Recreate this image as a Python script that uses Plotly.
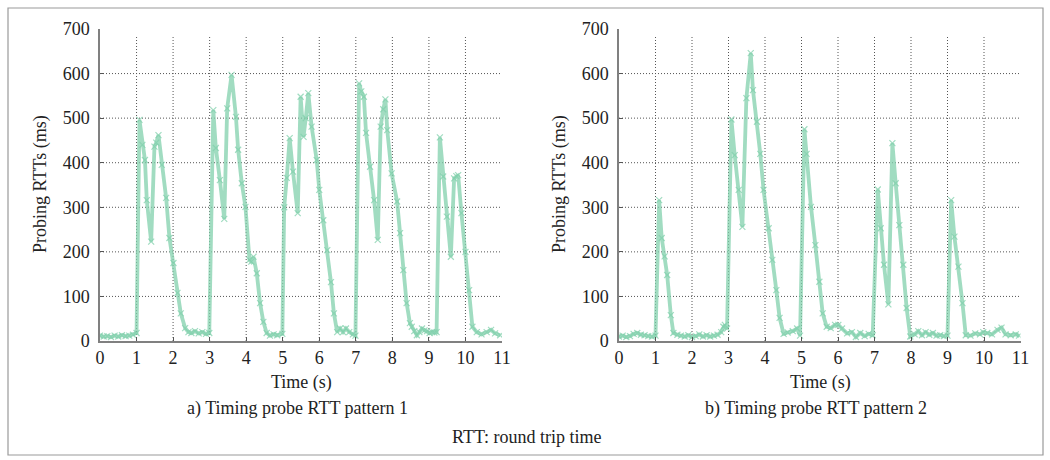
import plotly.graph_objects as go

# ---------------- data ----------------
x_ticks = list(range(0, 12))
y_ticks = [0, 100, 200, 300, 400, 500, 600, 700]
grid_x = list(range(1, 11))
grid_y = [100, 200, 300, 400, 500, 600]

t1 = [0.0, 0.1, 0.2, 0.3, 0.4, 0.5, 0.6, 0.7, 0.8, 0.9, 1.0,
      1.08, 1.16, 1.23, 1.28, 1.40, 1.49, 1.54, 1.60, 1.69, 1.81, 1.90, 2.01, 2.12, 2.21, 2.33,
      2.42, 2.5, 2.6, 2.7, 2.8, 2.9, 2.99,
      3.10, 3.17, 3.28, 3.40, 3.48, 3.60, 3.72, 3.78, 3.88, 3.98, 4.09, 4.14, 4.20, 4.29, 4.38,
      4.47, 4.56, 4.65, 4.75, 4.85, 4.99,
      5.04, 5.11, 5.19, 5.28, 5.41, 5.49, 5.57, 5.63, 5.70, 5.79, 5.93, 6.00, 6.11, 6.22, 6.32,
      6.40, 6.49, 6.57, 6.65, 6.73, 6.82, 6.92, 6.99,
      7.09, 7.15, 7.22, 7.28, 7.39, 7.50, 7.60, 7.68, 7.75, 7.81, 7.86, 7.98, 8.13, 8.21, 8.30,
      8.39, 8.48, 8.53, 8.60, 8.67, 8.74, 8.81, 8.88, 8.95, 9.02, 9.09, 9.15, 9.21,
      9.30, 9.39, 9.49, 9.60, 9.69, 9.75, 9.80, 9.89, 10.00, 10.10, 10.19, 10.31, 10.44,
      10.58, 10.70, 10.81, 10.95]
v1 = [12, 10, 11, 9, 12, 10, 13, 11, 12, 14, 18,
      496, 440, 406, 316, 223, 436, 445, 462, 395, 321, 231, 175, 108, 62, 29,
      20, 18, 22, 17, 20, 16, 18,
      518, 433, 361, 274, 522, 597, 503, 429, 354, 301, 182, 178, 189, 152, 85,
      43, 18, 12, 15, 13, 16,
      300, 366, 455, 380, 287, 548, 458, 500, 556, 481, 406, 339, 271, 204, 132,
      62, 20, 28, 20, 28, 20, 15, 12,
      578, 560, 548, 467, 391, 316, 227, 481, 520, 542, 473, 376, 313, 242, 159,
      85, 40, 32, 22, 13, 20, 28, 24, 22, 18, 20, 19, 20,
      457, 369, 279, 189, 365, 370, 372, 287, 200, 114, 32, 20, 15,
      20, 25, 17, 13]

t2 = [0.0, 0.1, 0.2, 0.3, 0.4, 0.5, 0.6, 0.7, 0.8, 0.9, 1.0,
      1.10, 1.17, 1.25, 1.32, 1.42, 1.49, 1.6, 1.7, 1.8, 1.9, 2.0, 2.1, 2.2, 2.3, 2.4, 2.5,
      2.6, 2.7, 2.8, 2.86, 2.90, 2.96,
      3.08, 3.17, 3.28, 3.38, 3.49, 3.61, 3.67, 3.78, 3.87, 3.96, 4.10, 4.20, 4.31, 4.40,
      4.51, 4.62, 4.76, 4.88, 4.96,
      5.08, 5.14, 5.26, 5.38, 5.49, 5.58, 5.69, 5.80, 5.92, 6.01, 6.11, 6.25, 6.38, 6.49,
      6.61, 6.73, 6.84, 6.95,
      7.09, 7.17, 7.26, 7.38, 7.49, 7.58, 7.68, 7.79, 7.88, 7.98,
      8.1, 8.2, 8.3, 8.4, 8.5, 8.6, 8.7, 8.8, 8.9, 9.0,
      9.10, 9.19, 9.30, 9.41, 9.50, 9.63, 9.76, 9.89, 9.98, 10.09, 10.22, 10.37, 10.48,
      10.59, 10.73, 10.87, 10.96]
v2 = [10, 12, 9, 11, 16, 18, 14, 13, 11, 10, 12,
      316, 231, 190, 148, 58, 18, 14, 12, 10, 13, 9, 11, 15, 10, 13, 10,
      12, 14, 20, 32, 36, 28,
      497, 417, 339, 256, 545, 646, 563, 492, 420, 339, 253, 182, 114, 52,
      16, 19, 22, 28, 12,
      475, 420, 301, 215, 133, 62, 32, 29, 36, 36, 28, 17, 20, 9,
      18, 11, 16, 13,
      340, 253, 171, 82, 444, 354, 260, 171, 74, 10,
      15, 22, 13, 20, 14, 18, 12, 13, 11, 12,
      316, 234, 167, 85, 13, 12, 17, 15, 20, 18, 15, 25, 30,
      15, 13, 15, 12]

# ---------------- style ----------------
FONT = "Liberation Serif"
LINE_COL = "rgba(130,208,172,0.75)"
GRID_COL = "#555555"
AXIS_COL = "#808080"

fig = go.Figure()
for i, (tt, vv) in enumerate([(t1, v1), (t2, v2)]):
    fig.add_trace(go.Scatter(
        x=tt, y=vv, mode="lines+markers",
        line=dict(color=LINE_COL, width=3.8),
        marker=dict(symbol="x-thin", size=6, line=dict(color=LINE_COL, width=1.2), color=LINE_COL),
        xaxis="x" if i == 0 else "x2", yaxis="y" if i == 0 else "y2",
        showlegend=False, hoverinfo="skip"))

W, H = 1050, 460
x_dom1 = [100 / W, 502 / W]
x_dom2 = [619 / W, 1020.5 / W]
y_dom = [(H - 341) / H, (H - 29) / H]

axis_common = dict(
    showline=True, linecolor=AXIS_COL, linewidth=1.5, ticks="inside", ticklen=4,
    tickcolor="#555555", tickwidth=1, showgrid=False, zeroline=False, automargin=False,
    tickfont=dict(family=FONT, size=18, color="#222222"), fixedrange=True)

fig.update_layout(
    template="none",
    width=W, height=H, margin=dict(l=0, r=0, t=0, b=0, pad=0, autoexpand=False),
    paper_bgcolor="white", plot_bgcolor="white",
    xaxis=dict(domain=x_dom1, range=[0, 11], tickvals=x_ticks, anchor="y", **axis_common),
    yaxis=dict(domain=y_dom, range=[0, 700], tickvals=y_ticks, anchor="x",
               ticklabelstandoff=5, **axis_common),
    xaxis2=dict(domain=x_dom2, range=[0, 11], tickvals=x_ticks, anchor="y2", **axis_common),
    yaxis2=dict(domain=y_dom, range=[0, 700], tickvals=y_ticks, anchor="x2",
                ticklabelstandoff=5, **axis_common),
)

shapes = []
for xr, yr in [("x", "y"), ("x2", "y2")]:
    for gx in grid_x:
        shapes.append(dict(type="line", xref=xr, yref=yr, x0=gx, x1=gx, y0=0, y1=685,
                           line=dict(color=GRID_COL, width=1, dash="1px,2px"), layer="below"))
    for gy in grid_y:
        shapes.append(dict(type="line", xref=xr, yref=yr, x0=0, x1=11, y0=gy, y1=gy,
                           line=dict(color=GRID_COL, width=1, dash="1px,2px"), layer="below"))
shapes.append(dict(type="rect", xref="paper", yref="paper",
                   x0=8 / W, x1=1043 / W, y0=(H - 455) / H, y1=(H - 8) / H,
                   line=dict(color="#9a9a9a", width=1.2), fillcolor="rgba(0,0,0,0)"))
fig.update_layout(shapes=shapes)

def ann(text, x, y, size=18, angle=0):
    return dict(text=text, x=x / W, y=(H - y) / H, xref="paper", yref="paper",
                showarrow=False, textangle=angle, xanchor="center", yanchor="middle",
                font=dict(family=FONT, size=size, color="#222222"))

fig.update_layout(annotations=[
    ann("Time (s)", 301, 382),
    ann("Time (s)", 820, 382),
    ann("Probing RTTs (ms)", 40, 184, angle=-90),
    ann("Probing RTTs (ms)", 559, 184, angle=-90),
    ann("a) Timing probe RTT pattern 1", 297, 408),
    ann("b) Timing probe RTT pattern 2", 816, 408),
    ann("RTT: round trip time", 527, 437),
])

fig.write_html("out.html", config={"displayModeBar": False},
               post_script="document.body.style.margin='0';document.body.style.overflow='hidden';")
